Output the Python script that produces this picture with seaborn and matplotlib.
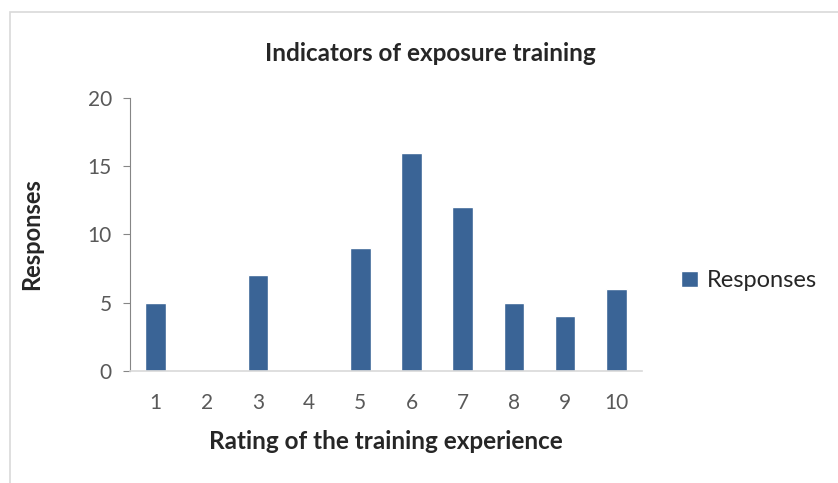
import matplotlib
matplotlib.use("Agg")
import matplotlib.pyplot as plt
import seaborn as sns
from matplotlib.patches import Rectangle

# Chart data
ratings = ['1', '2', '3', '4', '5', '6', '7', '8', '9', '10']
responses = [5, 0, 7, 0, 9, 16, 12, 5, 4, 6]

sns.set_style("white")
plt.rcParams['font.family'] = ['Lato', 'DejaVu Sans']

bar_color = '#3A6496'
tick_color = '#595959'

fig = plt.figure(figsize=(8.38, 4.83), dpi=100)
ax = fig.add_axes([0.155, 0.232, 0.611, 0.565])

sns.barplot(x=ratings, y=responses, color=bar_color, width=0.4,
            label='Responses', ax=ax, saturation=1)

# Axis styling (Excel-like)
ax.set_ylim(0, 20)
ax.set_yticks([0, 5, 10, 15, 20])
ax.set_xlim(-0.5, 9.5)
for side in ['top', 'right']:
    ax.spines[side].set_visible(False)
ax.spines['left'].set_color('#868686')
ax.spines['bottom'].set_color('#D9D9D9')
ax.spines['bottom'].set_linewidth(1.2)
ax.tick_params(axis='y', length=5, color='#868686', labelsize=15, labelcolor=tick_color, pad=8, left=True)
ax.tick_params(axis='x', length=0, labelsize=15, labelcolor=tick_color, pad=16)

# Title is centred on the whole chart area, not on the plot area
ax.set_title('Indicators of exposure training', fontsize=17.5, fontweight='bold', pad=27, x=0.586)
ax.set_xlabel('Rating of the training experience', fontsize=17.5, fontweight='bold', labelpad=12)
ax.set_ylabel('Responses', fontsize=17, fontweight='bold', labelpad=32)

leg = ax.legend(loc='center left', bbox_to_anchor=(1.035, 0.33), frameon=False,
                fontsize=17, handlelength=0.7, handleheight=0.7, handletextpad=0.4)

# Chart area border
fig.patches.append(Rectangle((10 / 838, -0.1), 1.2, 1.1 - 12 / 483,
                             transform=fig.transFigure, fill=False,
                             edgecolor='#D9D9D9', linewidth=1.2))

fig.savefig('out.png', dpi=100)
